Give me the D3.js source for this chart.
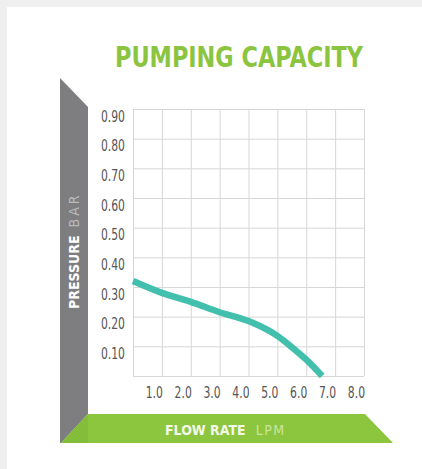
<!DOCTYPE html>
<html>
<head>
<meta charset="utf-8">
<script src="https://cdn.jsdelivr.net/npm/d3@7"></script>
<style>
  html, body { margin: 0; padding: 0; background: #fff; }
  svg { display: block; }
  .nar { font-family: "Liberation Sans Narrow", "DejaVu Sans Condensed", "Roboto Condensed", "Liberation Sans", sans-serif; }
</style>
</head>
<body>
<svg id="chart" width="422" height="469"></svg>
<script>
// ---- data ----
const title = "PUMPING CAPACITY";
const xTicks = [1, 2, 3, 4, 5, 6, 7, 8];
const xTickLabels = ["1.0", "2.0", "3.0", "4.0", "5.0", "6.0", "7.0", "8.0"];
const yTicks = [0.1, 0.2, 0.3, 0.4, 0.5, 0.6, 0.7, 0.8, 0.9];
const yTickLabels = ["0.10", "0.20", "0.30", "0.40", "0.50", "0.60", "0.70", "0.80", "0.90"];
const flowRate = [0, 1, 2, 3, 4, 5, 5.5, 6, 6.55];
const pressure = [0.32, 0.28, 0.25, 0.215, 0.185, 0.135, 0.097, 0.055, 0];
const yLabelMain = "PRESSURE", yLabelUnit = "BAR";
const xLabelMain = "FLOW RATE", xLabelUnit = "LPM";

const svg = d3.select("#chart");

// frame
svg.append("rect").attr("width", 422).attr("height", 469).attr("fill", "#efefef");
svg.append("rect").attr("x", 7).attr("y", 7).attr("width", 415).attr("height", 462).attr("fill", "#ffffff");

const L = 133, R = 364, T = 109, B = 376;
const x = d3.scaleLinear().domain([0, 8]).range([L, R]);
const y = d3.scaleLinear().domain([0, 0.9]).range([B, T]);

// 3D panels
svg.append("path").attr("d", "M60,78 L88,107 L88,414 L61,443 L60,443 Z").attr("fill", "#7e7e81");
svg.append("path").attr("d", "M88,414 L365,414 L393,443 L61,443 Z").attr("fill", "#8cc63f");
svg.append("path").attr("d", "M88,414 L88,443 L61,443 Z").attr("fill", "#84bd3a");

// grid via axes
const gY = svg.append("g").attr("transform", `translate(${L},0)`)
  .call(d3.axisLeft(y).tickValues([0].concat(yTicks)).tickSize(-(R - L)).tickFormat(""));
gY.select(".domain").remove();
gY.selectAll("line").attr("stroke", "#d6d6d6").attr("stroke-width", 1);

const gX = svg.append("g").attr("transform", `translate(0,${B})`)
  .call(d3.axisBottom(x).tickValues([0].concat(xTicks)).tickSize(-(B - T)).tickFormat(""));
gX.select(".domain").remove();
gX.selectAll("line").attr("stroke", "#d6d6d6").attr("stroke-width", 1);

// tick labels (condensed by horizontal scaling)
svg.append("g").selectAll("text").data(yTicks).join("text")
  .attr("class", "nar")
  .attr("transform", d => `translate(125,${y(d) + 12.5}) scale(0.8,1)`)
  .attr("text-anchor", "end")
  .attr("font-size", 15).attr("fill", "#555")
  .text((d, i) => yTickLabels[i]);

svg.append("g").selectAll("text").data(xTicks).join("text")
  .attr("class", "nar")
  .attr("transform", d => `translate(${x(d) + 1},398) scale(0.8,1)`)
  .attr("text-anchor", "end")
  .attr("font-size", 15).attr("fill", "#555")
  .text((d, i) => xTickLabels[i]);

// curve
const line = d3.line().x((d, i) => x(flowRate[i])).y(d => y(d)).curve(d3.curveMonotoneX);
svg.append("path").datum(pressure).attr("d", line)
  .attr("fill", "none").attr("stroke", "#43bfae").attr("stroke-width", 6.5);

// title
svg.append("text").attr("class", "nar")
  .attr("x", 115).attr("y", 67)
  .attr("font-size", 27.5).attr("font-weight", "bold").attr("fill", "#8bc53f")
  .attr("textLength", 248).attr("lengthAdjust", "spacingAndGlyphs")
  .text(title);

// y label
const yl = svg.append("text").attr("class", "nar")
  .attr("transform", "translate(79,309) rotate(-90)")
  .attr("font-size", 14);
yl.append("tspan").attr("font-weight", "bold").attr("fill", "#ffffff").text(yLabelMain);
yl.append("tspan").attr("dx", 8).attr("fill", "#b9b9bb").attr("letter-spacing", 3).text(yLabelUnit);

// x label
const xl = svg.append("text").attr("class", "nar")
  .attr("x", 165).attr("y", 435)
  .attr("font-size", 14);
xl.append("tspan").attr("font-weight", "bold").attr("fill", "#f4f8ea").text(xLabelMain);
xl.append("tspan").attr("dx", 10).attr("fill", "#c8e4a0").attr("letter-spacing", 1.5).text(xLabelUnit);
</script>
</body>
</html>
